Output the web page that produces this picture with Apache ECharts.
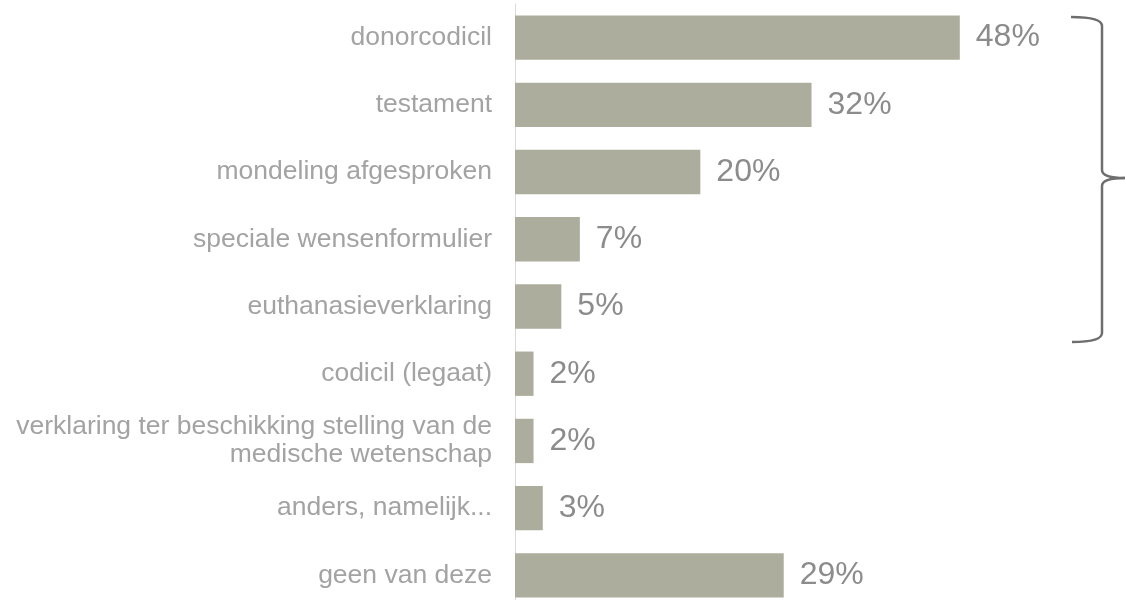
<!DOCTYPE html>
<html>
<head>
<meta charset="utf-8">
<script src="https://cdn.jsdelivr.net/npm/echarts@6/dist/echarts.min.js"></script>
<style>
  html, body { margin: 0; padding: 0; background: #fff; }
  #chart { width: 1125px; height: 600px; }
</style>
</head>
<body>
<div id="chart"></div>
<script>
// categorieën (van boven naar beneden)
const categories = [
  'donorcodicil',
  'testament',
  'mondeling afgesproken',
  'speciale wensenformulier',
  'euthanasieverklaring',
  'codicil (legaat)',
  'verklaring ter beschikking stelling van de\nmedische wetenschap',
  'anders, namelijk...',
  'geen van deze'
];
const values = [48, 32, 20, 7, 5, 2, 2, 3, 29];

const myChart = echarts.init(document.getElementById('chart'));

const braceStyle = { fill: 'none', stroke: '#6e6e6e', lineWidth: 2.5 };

const option = {
  animation: false,
  grid: { left: 515, top: 4, width: 556, height: 605, outerBoundsMode: 'none', containLabel: false },
  xAxis: {
    type: 'value',
    min: 0,
    max: 60,
    show: false
  },
  yAxis: {
    type: 'category',
    inverse: true,
    data: categories,
    axisLine: { show: true, lineStyle: { color: '#d9d9d9', width: 1 } },
    axisTick: { show: false },
    axisLabel: {
      margin: 23,
      color: '#a3a3a3',
      fontFamily: 'Liberation Sans, Arial, sans-serif',
      fontSize: 26.5,
      lineHeight: 28,
      align: 'right'
    }
  },
  series: [{
    type: 'bar',
    data: values,
    barCategoryGap: '34%',
    itemStyle: { color: '#adad9e' },
    label: {
      show: true,
      position: 'right',
      distance: 16,
      formatter: '{c}%',
      color: '#8c8c8c',
      fontFamily: 'Liberation Sans, Arial, sans-serif',
      fontSize: 32
    }
  }],
  // accolade rechts bij de eerste vijf
  graphic: [{
    type: 'group',
    children: [
      { type: 'bezierCurve', shape: { x1: 1071, y1: 17, cpx1: 1102, cpy1: 17, x2: 1102, y2: 26 }, style: braceStyle },
      { type: 'line', shape: { x1: 1102, y1: 26, x2: 1102, y2: 170 }, style: braceStyle },
      { type: 'bezierCurve', shape: { x1: 1102, y1: 170, cpx1: 1102, cpy1: 178, x2: 1125, y2: 178 }, style: braceStyle },
      { type: 'bezierCurve', shape: { x1: 1125, y1: 178, cpx1: 1102, cpy1: 178, x2: 1102, y2: 186 }, style: braceStyle },
      { type: 'line', shape: { x1: 1102, y1: 186, x2: 1102, y2: 333 }, style: braceStyle },
      { type: 'bezierCurve', shape: { x1: 1102, y1: 333, cpx1: 1102, cpy1: 342, x2: 1072, y2: 342 }, style: braceStyle }
    ]
  }]
};

myChart.setOption(option);
</script>
</body>
</html>
